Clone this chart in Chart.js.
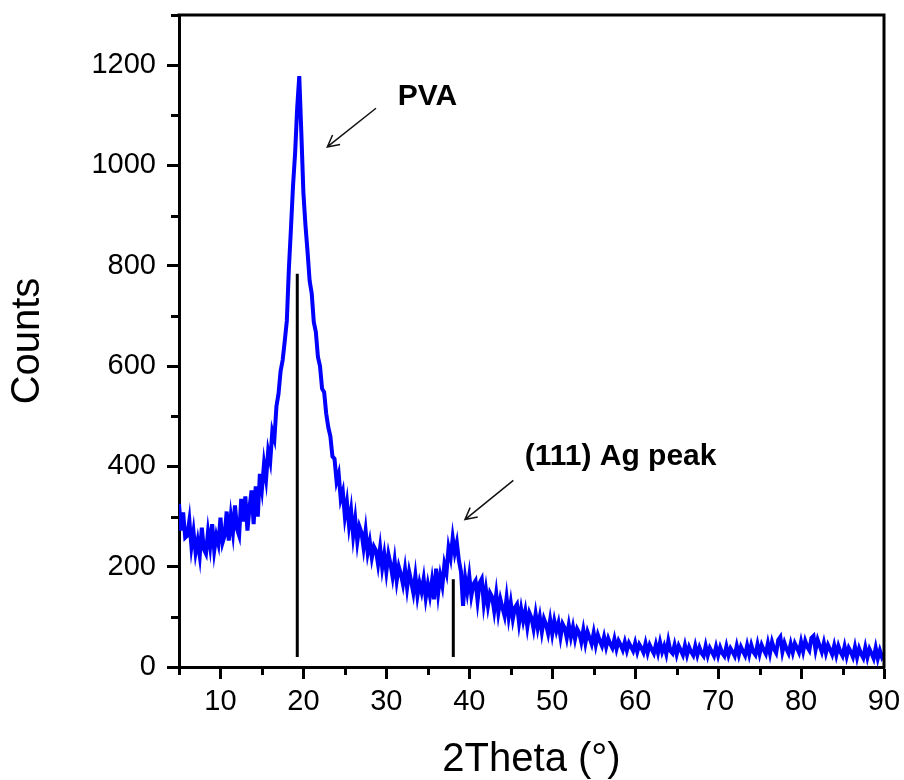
<!DOCTYPE html>
<html><head><meta charset="utf-8">
<script src="https://cdn.jsdelivr.net/npm/chart.js@4.4.1/dist/chart.umd.min.js"></script>
<style>html,body{margin:0;padding:0;background:#fff}#wrap{width:904px;height:780px}</style>
</head><body><div id="wrap"><canvas id="c" width="904" height="780"></canvas></div>
<script>
// XRD scan: start angle and step (2Theta, degrees)
const scanStart = 5;
const scanStep = 0.25;
// Counts, one value per step from 5.00 to 90.00
const counts = [
  325,272,308,258,262,292,240,270,228,252,222,278,235,226,270,240,285,232,262,245,
  298,248,262,310,252,300,268,322,275,262,335,290,340,272,318,352,285,360,300,385,
  355,405,375,430,410,470,455,520,545,590,612,650,690,795,875,960,1025,1115,1178,1065,
  945,880,828,770,745,688,668,618,600,555,548,505,478,460,420,415,370,385,335,350,
  300,328,282,312,262,295,250,280,268,238,272,228,250,218,240,232,205,238,198,225,
  190,225,205,180,212,172,200,185,165,195,158,190,170,148,182,142,168,150,176,138,
  165,142,172,135,196,148,182,162,205,188,238,218,258,228,248,212,190,122,178,150,
  182,142,165,172,132,168,176,126,155,122,148,140,112,146,108,135,118,102,138,100,
  128,96,118,125,88,116,92,112,80,108,98,76,106,78,100,70,96,85,67,94,
  66,92,72,88,60,86,78,58,84,60,80,56,76,68,50,74,48,70,58,46,
  68,44,64,52,42,60,40,57,46,38,56,36,52,44,34,50,33,48,40,32,
  48,30,45,38,29,47,28,44,35,27,45,28,49,30,42,26,52,32,27,44,
  25,42,33,24,43,24,40,30,23,42,24,39,28,22,42,23,38,30,22,40,
  23,39,28,22,41,23,37,30,22,42,24,40,31,23,43,25,44,30,24,45,
  26,44,34,26,47,27,50,36,28,54,60,30,48,36,27,46,29,47,38,29,
  50,31,52,40,33,58,62,34,54,42,30,48,28,44,35,25,43,24,42,30,
  22,41,21,38,30,20,40,19,37,26,18,39,19,36,27,17,38,17,33,20,
  28
];
// Reference pattern sticks
const stickPos = [19.26, 38.07];
const stickTop = [784, 175];
const stickBase = [20, 20];
// Axis ticks
const xTickValues = [10, 20, 30, 40, 50, 60, 70, 80, 90];
const xMinorValues = [5, 15, 25, 35, 45, 55, 65, 75, 85];
const yTickValues = [0, 200, 400, 600, 800, 1000, 1200];
const yMinorValues = [100, 300, 500, 700, 900, 1100, 1300];
// Annotations
const noteText = ['PVA', '(111) Ag peak'];
const noteX = [31.37, 46.68];
const noteY = [1120, 402];
const arrowFromX = [28.75, 45.31];
const arrowFromY = [1114, 372];
const arrowToX = [22.88, 39.48];
const arrowToY = [1037, 294];

const curve = counts.map((v, i) => ({x: scanStart + i * scanStep, y: v}));
const stickSets = stickPos.map((p, i) => ({
  data: [{x: p, y: stickBase[i]}, {x: p, y: stickTop[i]}],
  borderColor: '#000', borderWidth: 3, pointRadius: 0, borderCapStyle: 'butt'
}));

const FONT = "'Liberation Sans', Arial, sans-serif";

const extras = {
  id: 'extras',
  afterDraw(chart) {
    const ctx = chart.ctx, a = chart.chartArea;
    const xs = chart.scales.x, ys = chart.scales.y;
    ctx.save();
    ctx.strokeStyle = '#000';
    ctx.lineWidth = 3;
    ctx.beginPath();
    ctx.moveTo(a.left - 1.5, a.top); ctx.lineTo(a.right, a.top);
    ctx.moveTo(a.right, a.top - 1.5); ctx.lineTo(a.right, a.bottom + 1.5);
    ctx.stroke();
    ctx.beginPath();
    xMinorValues.forEach(v => {
      const px = Math.round(xs.getPixelForValue(v)) + 0.5;
      ctx.moveTo(px, a.bottom); ctx.lineTo(px, a.bottom + 8);
    });
    yMinorValues.forEach(v => {
      const py = Math.round(ys.getPixelForValue(v)) + 0.5;
      ctx.moveTo(a.left, py); ctx.lineTo(a.left - 8, py);
    });
    ctx.stroke();
    // arrows
    ctx.lineWidth = 1.5;
    ctx.strokeStyle = '#111';
    for (let i = 0; i < arrowFromX.length; i++) {
      const x1 = xs.getPixelForValue(arrowFromX[i]), y1 = ys.getPixelForValue(arrowFromY[i]);
      const x2 = xs.getPixelForValue(arrowToX[i]), y2 = ys.getPixelForValue(arrowToY[i]);
      const ang = Math.atan2(y1 - y2, x1 - x2);
      const L = 13, s = Math.PI / 6.5;
      ctx.beginPath();
      ctx.moveTo(x1, y1); ctx.lineTo(x2, y2);
      ctx.moveTo(x2 + L * Math.cos(ang + s), y2 + L * Math.sin(ang + s));
      ctx.lineTo(x2, y2);
      ctx.lineTo(x2 + L * Math.cos(ang - s), y2 + L * Math.sin(ang - s));
      ctx.stroke();
    }
    ctx.fillStyle = '#000';
    ctx.font = "bold 30px " + FONT;
    ctx.textAlign = 'left';
    ctx.textBaseline = 'alphabetic';
    noteText.forEach((t, i) => {
      ctx.fillText(t, xs.getPixelForValue(noteX[i]), ys.getPixelForValue(noteY[i]));
    });
    ctx.restore();
  }
};

new Chart(document.getElementById('c'), {
  type: 'line',
  data: {
    datasets: [
      {data: curve, borderColor: 'rgb(0,0,255)', borderWidth: 4, pointRadius: 0, tension: 0, borderJoinStyle: 'miter'}
    ].concat(stickSets)
  },
  options: {
    responsive: false,
    animation: false,
    devicePixelRatio: 1,
    layout: {padding: {left: 0, right: 20, top: 15, bottom: 0}},
    plugins: {legend: {display: false}, tooltip: {enabled: false}},
    scales: {
      x: {
        type: 'linear', position: 'bottom', min: 5, max: 90,
        afterBuildTicks: s => { s.ticks = xTickValues.map(v => ({value: v})); },
        afterFit: s => { s.height = 113; s.paddingLeft = 0; s.paddingRight = 0; },
        grid: {drawOnChartArea: false, drawTicks: true, tickLength: 12, tickWidth: 3, tickColor: '#000'},
        border: {display: true, color: '#000', width: 3},
        ticks: {color: '#000', padding: 8, font: {family: FONT, size: 29, lineHeight: 1}, maxRotation: 0,
                callback: v => String(v)},
        title: {display: true, text: '2Theta (°)', color: '#000', font: {family: FONT, size: 40, lineHeight: 1}, padding: {top: 0, bottom: 0}}
      },
      y: {
        type: 'linear', position: 'left', min: 0, max: 1300,
        afterBuildTicks: s => { s.ticks = yTickValues.map(v => ({value: v})); },
        afterFit: s => { s.width = 179; s.paddingTop = 0; s.paddingBottom = 0; },
        grid: {drawOnChartArea: false, drawTicks: true, tickLength: 12, tickWidth: 3, tickColor: '#000'},
        border: {display: true, color: '#000', width: 3},
        ticks: {color: '#000', padding: 11, font: {family: FONT, size: 29, lineHeight: 1},
                callback: v => String(v)},
        title: {display: true, text: 'Counts', color: '#000', font: {family: FONT, size: 40, lineHeight: 1}, padding: {top: 8, bottom: 0}}
      }
    }
  },
  plugins: [extras]
});
</script>
</body></html>
